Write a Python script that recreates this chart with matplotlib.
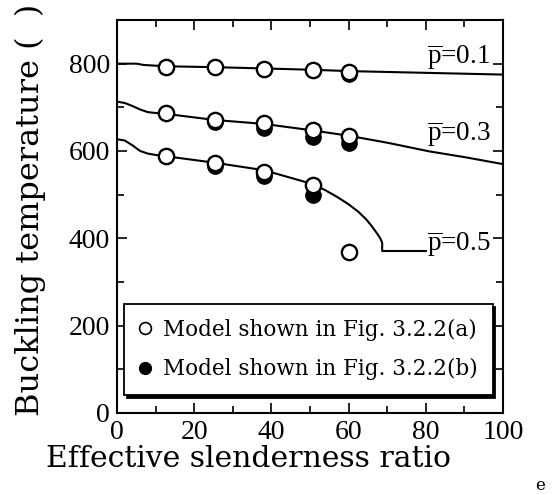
import matplotlib
matplotlib.use("Agg")
import matplotlib.pyplot as plt
from matplotlib.lines import Line2D
from matplotlib.ticker import MultipleLocator

plt.rcParams["mathtext.fontset"] = "custom"
plt.rcParams["mathtext.rm"] = "Liberation Serif"

# measured points (slenderness ratio, buckling temperature)
slender = [12.7, 25.4, 38.1, 50.8, 60.0]

open_p01 = [793, 793, 788, 786, 782]
open_p03 = [686, 670, 663, 647, 634]
open_p05 = [588, 572, 551, 522, 369]

filled_x = [12.7, 25.4, 38.1, 50.8, 60.0, 12.7, 25.4, 38.1, 50.8, 60.0, 12.7, 25.4, 38.1, 50.8]
filled_y = [793, 793, 788, 786, 777, 686, 666, 652, 631, 618, 588, 565, 542, 499]

# analytical curves
curve01_x = [0, 5, 7, 12.7, 25.4, 38.1, 50.8, 60, 80, 100]
curve01_y = [800, 800, 797, 794, 792, 789, 786, 783, 779, 775]

curve03_x = [0, 2, 4, 6, 8, 10, 12.7, 25.4, 38.1, 50.8, 60, 70, 81, 90, 100]
curve03_y = [713, 710, 703, 695, 689, 687, 685, 671, 662, 647, 635, 619, 599, 586, 570]

curve05_x = [0, 2, 4, 6, 8, 10, 12.7, 25.4, 38.1, 50.8, 54, 57, 60, 62.5, 64.5,
             66, 67.3, 68.2, 68.7, 68.7, 80]
curve05_y = [627, 624, 613, 600, 594, 591, 588, 573, 556, 524, 510, 495, 478, 461, 444,
             428, 412, 400, 390, 371, 371]

curve_labels = [r"$\overline{\mathrm{p}}$=0.1", r"$\overline{\mathrm{p}}$=0.3", r"$\overline{\mathrm{p}}$=0.5"]
label_y = [800, 622, 371]

fig = plt.figure(figsize=(5.52, 4.95), dpi=100)
ax = fig.add_axes([117 / 552, 1 - 413 / 495, 386 / 552, 393 / 495])

for cx, cy in [(curve01_x, curve01_y), (curve03_x, curve03_y), (curve05_x, curve05_y)]:
    ax.plot(cx, cy, color="black", lw=1.5, zorder=2)

ax.plot(filled_x, filled_y, "o", color="black", ms=11, zorder=3)
for vals in [open_p01, open_p03, open_p05]:
    ax.plot(slender, vals, "o", mfc="white", mec="black", mew=1.7, ms=11, zorder=4)

for lab, ly in zip(curve_labels, label_y):
    ax.text(80.4, ly, lab, fontsize=19.5, family="Liberation Serif", va="baseline", ha="left")

ax.set_xlim(0, 100)
ax.set_ylim(0, 900)
ax.xaxis.set_major_locator(MultipleLocator(20))
ax.xaxis.set_minor_locator(MultipleLocator(10))
ax.yaxis.set_major_locator(MultipleLocator(200))
ax.yaxis.set_minor_locator(MultipleLocator(100))
ax.tick_params(which="both", direction="in", top=True, right=True, width=1.2,
               labelsize=20, pad=5)
ax.tick_params(which="major", length=7)
ax.tick_params(which="minor", length=5)
for lbl in ax.get_xticklabels() + ax.get_yticklabels():
    lbl.set_family("Liberation Serif")
for sp in ax.spines.values():
    sp.set_linewidth(1.5)

handles = [
    Line2D([], [], ls="none", marker="o", mfc="white", mec="black", mew=1.2, ms=8.5),
    Line2D([], [], ls="none", marker="o", color="black", ms=8.5),
]
leg = ax.legend(handles, ["Model shown in Fig. 3.2.2(a)", "Model shown in Fig. 3.2.2(b)"],
                loc="lower left", bbox_to_anchor=(0.018, 0.045), borderaxespad=0,
                prop={"family": "DejaVu Serif", "size": 15.5},
                frameon=True, fancybox=False, shadow={"color": "black", "alpha": 1},
                handlelength=0.6, handletextpad=0.5, borderpad=0.7, labelspacing=0.8)
leg.get_frame().set_edgecolor("black")
leg.get_frame().set_linewidth(1.3)
leg.set_zorder(5)

fig.text(30 / 552, 1 - 210 / 495, "Buckling temperature (  )", rotation=90,
         ha="center", va="center", fontsize=23, family="DejaVu Serif")
fig.text(249 / 552, 1 - 467 / 495, "Effective slenderness ratio", ha="center",
         va="baseline", fontsize=21.5, family="DejaVu Serif")
fig.text(540 / 552, 1 - 490 / 495, "e", ha="center", va="baseline", fontsize=12,
         family="DejaVu Serif")

fig.savefig("out.png", dpi=100)
